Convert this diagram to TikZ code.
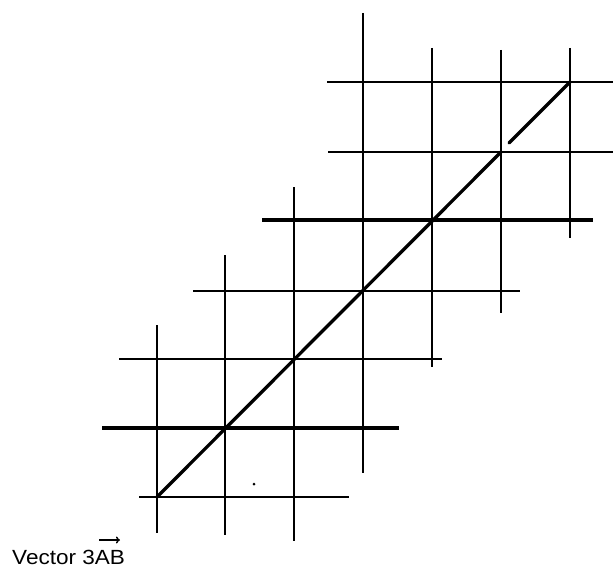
\documentclass[tikz,border=0pt]{standalone}
\usepackage{fontspec}
\setmainfont{Liberation Sans}
\usetikzlibrary{arrows.meta}
\begin{document}
\begin{tikzpicture}[x=1pt,y=-1pt,
  gridline/.style={line width=2.1pt,black},
  thickline/.style={line width=3.1pt,black},
  vecline/.style={line width=3.3pt,black,line cap=round}]
\useasboundingbox (0,0) rectangle (613,567);
% vertical lines
\draw[gridline] (157,325) -- (157,533);
\draw[gridline] (225,255) -- (225,535);
\draw[gridline] (294,187) -- (294,541);
\draw[gridline] (363,13) -- (363,473);
\draw[gridline] (432,48) -- (432,367);
\draw[gridline] (501,50) -- (501,313);
\draw[gridline] (570,48) -- (570,238);
% horizontal lines
\draw[gridline] (327,82) -- (613,82);
\draw[gridline] (328,152) -- (613,152);
\draw[thickline] (262,220) -- (593,220);
\draw[gridline] (193,291) -- (520,291);
\draw[gridline] (119,359) -- (442,359);
\draw[thickline] (102,428) -- (399,428);
\draw[gridline] (139,497) -- (349,497);
% the vector 3AB
\coordinate (A) at (157,497);
\coordinate (G1) at (501,152);
\coordinate (G2) at (509,143);
\coordinate (B) at (570,82);
\draw[vecline] (A) -- (G1);
\draw[vecline] (G2) -- (B);
% stray dot
\fill (254,484) circle (1.5);
% caption
\node[anchor=base west,inner sep=0pt,font=\fontsize{20.5}{24}\selectfont,xscale=1.1] (cap) at (12,564) {Vector 3AB};
\coordinate (ar1) at (99,540);
\coordinate (ar2) at (120,540);
\draw[line width=1.4pt,-{To[length=4pt,width=7pt]}] (ar1) -- (ar2);
\end{tikzpicture}
\end{document}
